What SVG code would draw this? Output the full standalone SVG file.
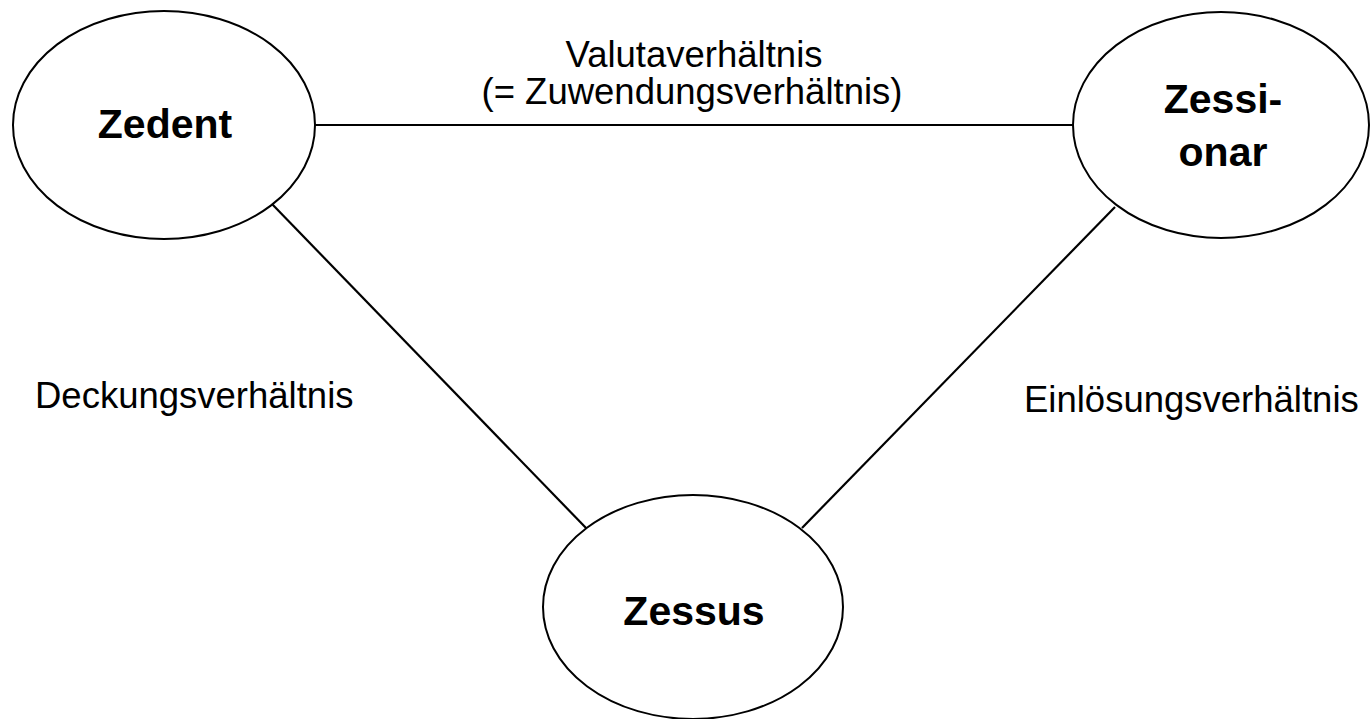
<svg xmlns="http://www.w3.org/2000/svg" width="1370" height="719" viewBox="0 0 1370 719">
<style>
.node{fill:#fff;stroke:#000;stroke-width:2}
.conn{stroke:#000;stroke-width:2.2;fill:none}
.bold{font-family:"Liberation Sans",Arial,sans-serif;font-weight:bold;font-size:41px;fill:#000;text-anchor:middle}
.lbl{font-family:"Liberation Sans",Arial,sans-serif;font-size:36.5px;fill:#000}
</style>
<rect width="1370" height="719" fill="#fff"/>
<g id="connectors">
<line class="conn" x1="315" y1="125" x2="1073" y2="125"/>
<line class="conn" x1="272" y1="204" x2="587" y2="529"/>
<line class="conn" x1="1115" y1="207" x2="802" y2="528"/>
</g>
<g id="zedent">
<ellipse class="node" cx="164" cy="125" rx="151" ry="114"/>
<text class="bold" x="165" y="138">Zedent</text>
</g>
<g id="zessionar">
<ellipse class="node" cx="1221" cy="125" rx="148" ry="113"/>
<text class="bold" x="1223" y="113">Zessi-</text>
<text class="bold" x="1223" y="166">onar</text>
</g>
<g id="zessus">
<ellipse class="node" cx="693" cy="607" rx="150" ry="112"/>
<text class="bold" x="694" y="625">Zessus</text>
</g>
<g id="labels">
<text class="lbl" x="694" y="67" text-anchor="middle">Valutaverhältnis</text>
<text class="lbl" x="692" y="104" text-anchor="middle">(= Zuwendungsverhältnis)</text>
<text class="lbl" x="35" y="408">Deckungsverhältnis</text>
<text class="lbl" x="1024" y="412">Einlösungsverhältnis</text>
</g>
</svg>
